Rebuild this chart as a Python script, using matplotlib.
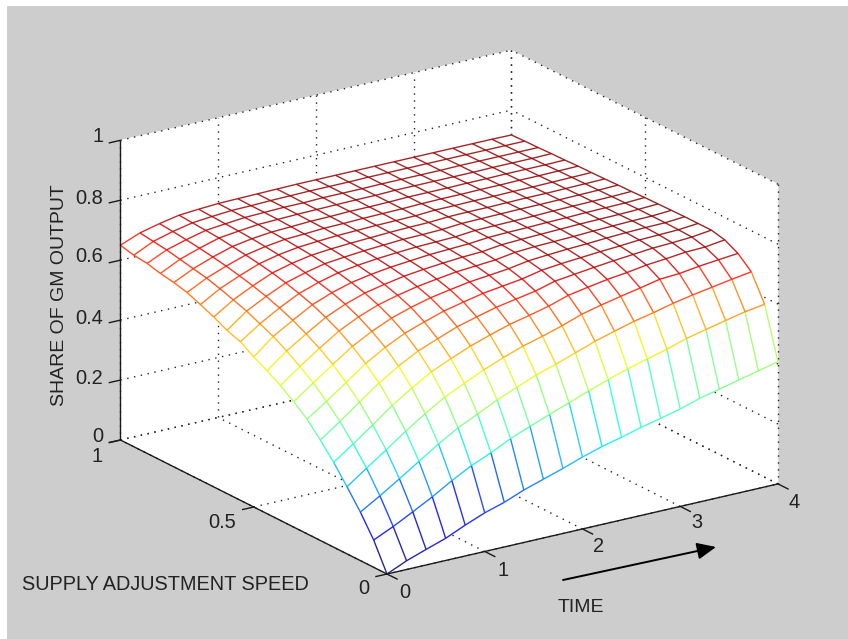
import numpy as np
import matplotlib
matplotlib.use('Agg')
import matplotlib.pyplot as plt
from matplotlib.patches import FancyArrowPatch, Rectangle
from mpl_toolkits.mplot3d import proj3d
from mpl_toolkits.mplot3d.art3d import Line3DCollection, Poly3DCollection

plt.rcParams['font.family'] = ['Liberation Sans', 'DejaVu Sans']

time = [0, 0.2, 0.4, 0.6, 0.8, 1, 1.2, 1.4, 1.6, 1.8, 2, 2.2, 2.4, 2.6, 2.8, 3, 3.2, 3.4, 3.6, 3.8, 4]
speed = [0, 0.05, 0.1, 0.15, 0.2, 0.25, 0.3, 0.35, 0.4, 0.45, 0.5, 0.55, 0.6, 0.65, 0.7, 0.75, 0.8, 0.85, 0.9, 0.95, 1]

# one row per time value
share = [
    [0, .091, .162, .224, .283, .335, .383, .418, .450, .477, .501, .529, .545, .567, .586, .604, .615, .623, .634, .639, .650],
    [.029, .121, .201, .271, .330, .382, .427, .466, .499, .528, .554, .574, .594, .609, .624, .637, .646, .655, .664, .670, .676],
    [.052, .155, .243, .317, .378, .432, .475, .513, .544, .570, .593, .612, .628, .641, .652, .662, .670, .677, .683, .688, .692],
    [.074, .190, .286, .364, .428, .480, .523, .558, .587, .610, .630, .645, .658, .669, .677, .684, .690, .696, .699, .702, .705],
    [.103, .229, .329, .408, .471, .522, .562, .593, .619, .639, .655, .667, .677, .686, .692, .697, .701, .704, .706, .708, .710],
    [.129, .264, .368, .448, .510, .557, .594, .622, .644, .661, .674, .684, .692, .698, .702, .706, .708, .711, .712, .713, .714],
    [.149, .292, .399, .479, .539, .583, .617, .643, .661, .675, .686, .694, .699, .704, .707, .709, .711, .713, .714, .714, .715],
    [.175, .324, .431, .509, .566, .608, .638, .660, .675, .687, .695, .701, .705, .708, .711, .713, .714, .715, .716, .716, .716],
    [.196, .350, .458, .535, .588, .626, .653, .672, .685, .695, .701, .706, .709, .711, .713, .714, .715, .716, .716, .717, .717],
    [.217, .375, .484, .558, .608, .643, .667, .683, .694, .701, .707, .710, .713, .714, .715, .716, .717, .717, .718, .718, .718],
    [.240, .399, .505, .576, .623, .655, .676, .690, .699, .706, .710, .712, .714, .716, .716, .717, .717, .718, .718, .718, .718],
    [.260, .423, .528, .596, .639, .667, .685, .697, .704, .709, .713, .714, .716, .717, .717, .718, .718, .718, .718, .718, .718],
    [.276, .446, .551, .619, .660, .685, .699, .708, .714, .717, .719, .720, .721, .721, .721, .720, .720, .720, .719, .719, .718],
    [.294, .467, .570, .635, .672, .693, .706, .713, .718, .720, .721, .721, .722, .722, .721, .721, .720, .720, .719, .719, .718],
    [.309, .485, .588, .649, .683, .701, .711, .717, .720, .722, .722, .722, .723, .722, .722, .721, .720, .720, .719, .719, .718],
    [.325, .502, .602, .662, .691, .708, .716, .720, .722, .724, .724, .723, .724, .723, .722, .722, .721, .720, .719, .719, .718],
    [.346, .523, .618, .676, .701, .714, .720, .724, .725, .726, .725, .725, .724, .724, .723, .722, .721, .720, .720, .719, .718],
    [.361, .538, .631, .680, .707, .720, .725, .727, .727, .727, .727, .726, .725, .724, .723, .723, .722, .721, .720, .719, .718],
    [.377, .553, .642, .689, .714, .723, .727, .729, .729, .728, .728, .727, .726, .725, .724, .723, .722, .721, .720, .719, .718],
    [.392, .567, .653, .696, .716, .727, .729, .730, .730, .730, .729, .728, .727, .726, .725, .724, .722, .721, .720, .719, .718],
    [.408, .577, .663, .702, .725, .735, .735, .735, .734, .733, .732, .730, .729, .727, .726, .725, .723, .722, .720, .719, .717],
]

time_ticks = [0, 1, 2, 3, 4]
speed_ticks = [0, 0.5, 1]
share_ticks = [0, 0.2, 0.4, 0.6, 0.8, 1]
time_labels = ['0', '1', '2', '3', '4']
speed_labels = ['0', '0.5', '1']
share_labels = ['0', '0.2', '0.4', '0.6', '0.8', '1']

W, H = 848, 639
GRAY = '#cdcdcd'

fig = plt.figure(figsize=(W / 100, H / 100), dpi=100, facecolor='white')
fig.add_artist(Rectangle((7 / W, 0), 1, 1 - 6 / H, transform=fig.transFigure, facecolor=GRAY, edgecolor='none', zorder=-5))

ax = fig.add_axes([0, 0, 1, 1], projection='3d', proj_type='ortho', computed_zorder=False)
ax.set_xlim(0, 4)
ax.set_ylim(0, 1)
ax.set_zlim(0, 1)
ax.set_box_aspect((1, 1.007, 0.675))
ax.view_init(elev=19.9, azim=-124.1)
ax.set_axis_off()
ax.patch.set_visible(False)


def to_px(t, s, z):
    vx, vy, _ = proj3d.proj_transform(t, s, z, ax.get_proj())
    return ax.transData.transform((vx, vy))


# fit the box onto the pixel corners of the original
side = 800
ax.set_position([0, 0, side / W, side / H])
span = np.hypot(*(to_px(4, 0, 0) - to_px(0, 0, 0)))
side = side * np.hypot(391, 90) / span
ax.set_position([0, 0, side / W, side / H])
off = np.array([387, H - 574]) - to_px(0, 0, 0)
ax.set_position([off[0] / W, off[1] / H, side / W, side / H])

# white walls and floor
walls = [
    [(0, 1, 0), (4, 1, 0), (4, 1, 1), (0, 1, 1)],
    [(4, 0, 0), (4, 1, 0), (4, 1, 1), (4, 0, 1)],
    [(0, 0, 0), (4, 0, 0), (4, 1, 0), (0, 1, 0)],
]
ax.add_collection3d(Poly3DCollection(walls, facecolor='white', edgecolor='white', linewidth=0.5, zorder=0))

# dotted grid
grid = []
for t in time_ticks:
    grid.append([(t, 0, 0), (t, 1, 0)])
    grid.append([(t, 1, 0), (t, 1, 1)])
for s in speed_ticks:
    grid.append([(0, s, 0), (4, s, 0)])
    grid.append([(4, s, 0), (4, s, 1)])
for z in share_ticks:
    grid.append([(0, 1, z), (4, 1, z)])
    grid.append([(4, 0, z), (4, 1, z)])
ax.add_collection3d(Line3DCollection(grid, colors='#222222', linewidths=1.0, linestyles=[(0, (1, 4))], zorder=1))

# mesh: white cells hide the grid, each edge takes the colour of its first node
Z = np.array(share)
cmap = plt.get_cmap('jet')
zmax = Z.max()
cells = []
segs = []
cols = []
for i in range(len(time)):
    for j in range(len(speed)):
        p = (time[i], speed[j], Z[i, j])
        c = cmap(Z[i, j] / zmax, alpha=0.85)
        if i + 1 < len(time):
            segs.append([p, (time[i + 1], speed[j], Z[i + 1, j])])
            cols.append(c)
        if j + 1 < len(speed):
            segs.append([p, (time[i], speed[j + 1], Z[i, j + 1])])
            cols.append(c)
        if i + 1 < len(time) and j + 1 < len(speed):
            cells.append([p, (time[i + 1], speed[j], Z[i + 1, j]),
                          (time[i + 1], speed[j + 1], Z[i + 1, j + 1]), (time[i], speed[j + 1], Z[i, j + 1])])
ax.add_collection3d(Poly3DCollection(cells, facecolor='white', edgecolor='white', linewidth=0.4, zorder=2))
ax.add_collection3d(Line3DCollection(segs, colors=cols, linewidths=1.0, zorder=3))

# solid axes and ticks
axes_lines = [[(0, 0, 0), (4, 0, 0)], [(0, 0, 0), (0, 1, 0)], [(0, 1, 0), (0, 1, 1)]]
for t in time_ticks:
    axes_lines.append([(t, 0, 0), (t, -0.04, 0)])
for s in speed_ticks:
    axes_lines.append([(0, s, 0), (-0.12, s, 0)])
for z in share_ticks:
    axes_lines.append([(0, 1, z), (-0.12, 1, z)])
ax.add_collection3d(Line3DCollection(axes_lines, colors='#1a1a1a', linewidths=1.0, zorder=4))


def label(x, y, text, **kw):
    fig.text(x / W, 1 - y / H, text, ha='center', va='center', color='#222222', **kw)


for txt, x, y in zip(share_labels, [98, 89, 89, 89, 89, 98], [436, 378, 318, 257, 198, 137]):
    label(x, y, txt, fontsize=14.4)
for txt, x, y in zip(speed_labels, [364, 222, 97], [588, 522, 457]):
    label(x, y, txt, fontsize=14.4)
for txt, x, y in zip(time_labels, [405, 503, 599, 697, 794], [592, 570, 547, 523, 503]):
    label(x, y, txt, fontsize=14.4)

label(60, 295, 'SHARE OF GM OUTPUT', fontsize=14, rotation=90)
label(165, 585, 'SUPPLY ADJUSTMENT SPEED', fontsize=14.3)
label(581, 607, 'TIME', fontsize=14)

fig.add_artist(FancyArrowPatch((563 / W, 1 - 580 / H), (716 / W, 1 - 547 / H), transform=fig.transFigure,
                               arrowstyle='-|>,head_length=5.2,head_width=2.3', mutation_scale=2.2, color='black',
                               linewidth=1.4, shrinkA=0, shrinkB=0))

fig.savefig('out.png', dpi=100, facecolor=fig.get_facecolor())
